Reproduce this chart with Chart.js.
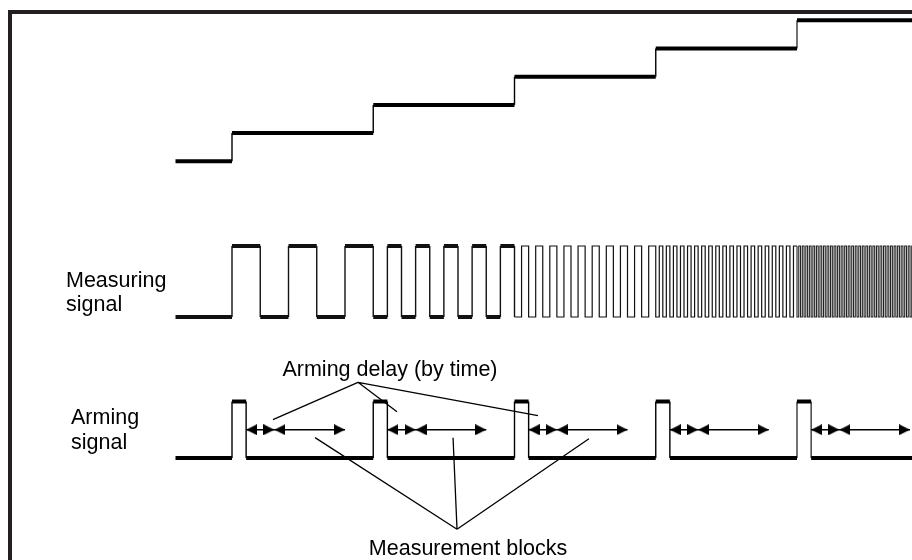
<!DOCTYPE html>
<html><head><meta charset="utf-8">
<script src="https://cdn.jsdelivr.net/npm/chart.js@4.4.1/dist/chart.umd.min.js"></script>
<style>html,body{margin:0;padding:0;background:#fff;overflow:hidden}canvas{display:block}</style>
</head><body>
<canvas id="c" width="912" height="560"></canvas>
<script>
// ---------------- data (time units: one staircase step = 10 units) ----------------
const signalStart = 6;
const signalEnd = 58.3;
const stairEdges = [10, 20, 30, 40, 50];
const stairLevels = [0, 1, 2, 3, 4, 5];
const measSegStart = [10, 20, 30, 40, 50];
const measSegEnd = [20, 30, 40, 50, 58.3];
const measPeriod = [4, 2, 1, 0.5, 0.25];
const measHighPhase = [0, 0.5, 0.5, 0.5, 0.5];
const armRise = [10, 20, 30, 40, 50];
const armFall = [11, 21, 31, 41, 51];
const delayEnd = [13, 23, 33, 43, 53];
const blockEnd = [18, 28, 38, 48, 58];
const arrowLevel = 0.5;
const delayApex = [18.92, 1.34];
const delayTipX = [12.9, 21.68, 31.66];
const delayTipY = [0.68, 0.82, 0.75];
const blockApex = [25.93, -1.26];
const blockTipX = [15.88, 25.65, 35.27];
const blockTipY = [0.36, 0.36, 0.34];
const labelTexts = ['Measuring', 'signal', 'Arming', 'signal', 'Arming delay (by time)', 'Measurement blocks'];

// ---------------- build series ----------------
const stairPts = [{x: signalStart, y: stairLevels[0]}];
stairEdges.forEach((e, i) => { stairPts.push({x: e, y: stairLevels[i]}); stairPts.push({x: e, y: stairLevels[i + 1]}); });
stairPts.push({x: signalEnd, y: stairLevels[stairLevels.length - 1]});

const measPts = [{x: signalStart, y: 0}];
measSegStart.forEach((s, si) => {
  const p = measPeriod[si];
  for (let i = 0; ; i++) {
    const rise = s + i * p + measHighPhase[si] * p;
    if (rise >= measSegEnd[si] - 1e-9) break;
    const fall = rise + p / 2;
    measPts.push({x: rise, y: 0}, {x: rise, y: 1}, {x: fall, y: 1}, {x: fall, y: 0});
  }
});
measPts.push({x: signalEnd, y: 0});

const armPts = [{x: signalStart, y: 0}];
armRise.forEach((r, i) => { armPts.push({x: r, y: 0}, {x: r, y: 1}, {x: armFall[i], y: 1}, {x: armFall[i], y: 0}); });
armPts.push({x: signalEnd, y: 0});

const arrowLines = [];
armFall.forEach((f, i) => { arrowLines.push({x: f, y: arrowLevel}, {x: blockEnd[i], y: arrowLevel}, {x: blockEnd[i], y: null}); });
const headsLeft = [], headsRight = [];
armFall.forEach((f, i) => {
  headsLeft.push({x: f, y: arrowLevel}, {x: delayEnd[i], y: arrowLevel});
  headsRight.push({x: delayEnd[i], y: arrowLevel}, {x: blockEnd[i], y: arrowLevel});
});
const callouts = [];
delayTipX.forEach((x, i) => { callouts.push({x: delayApex[0], y: delayApex[1]}, {x: x, y: delayTipY[i]}, {x: x, y: null}); });
blockTipX.forEach((x, i) => { callouts.push({x: blockApex[0], y: blockApex[1]}, {x: x, y: blockTipY[i]}, {x: x, y: null}); });

// ---------------- layout helpers ----------------
const W = 912, H = 560;
const pxPerUnit = 14.125;
const xMin = 10 - 232 / pxPerUnit, xMax = xMin + W / pxPerUnit;
function place(p0, u) { return {min: (p0 - H) / u, max: p0 / u}; }
const yStair = place(161.3, 28.2), yMeas = place(317, 71), yArm = place(458, 56.5);

function head() {
  const c = document.createElement('canvas');
  c.width = 22; c.height = 11;
  const g = c.getContext('2d');
  g.fillStyle = '#000';
  g.beginPath(); g.moveTo(0, 0); g.lineTo(11, 5.5); g.lineTo(0, 11); g.closePath(); g.fill();
  return c;
}
const headImg = head();
const thick = 4, thin = 1.4;
const hv = (limit) => ctx => {
  const a = ctx.p0.parsed, b = ctx.p1.parsed;
  if (a.y === b.y && b.x <= limit) return thick;
  if (a.x >= 50) return 1.1;
  return b.x > limit ? 1.2 : thin;
};
const measColor = ctx => (ctx.p0.parsed.x >= 50 ? '#222' : '#111');

const decor = {
  id: 'decor',
  beforeDraw(chart) {
    const g = chart.ctx;
    g.save(); g.fillStyle = '#231f20';
    g.fillRect(8, 10, 4, H - 10); g.fillRect(8, 10, W - 8, 4);
    g.restore();
  },
  afterDraw(chart) {
    const g = chart.ctx, sx = chart.scales.x;
    g.save(); g.fillStyle = '#000'; g.font = '21.5px "Liberation Sans", Arial, sans-serif'; g.textBaseline = 'alphabetic';
    g.textAlign = 'left';
    g.fillText(labelTexts[0], 66, 287);
    g.fillText(labelTexts[1], 66, 311);
    g.fillText(labelTexts[2], 71, 424);
    g.fillText(labelTexts[3], 71, 449);
    g.textAlign = 'center';
    g.fillText(labelTexts[4], sx.getPixelForValue(delayApex[0]) + 32, 376);
    g.fillText(labelTexts[5], sx.getPixelForValue(blockApex[0]) + 11, 555);
    g.restore();
  }
};

new Chart(document.getElementById('c'), {
  type: 'line',
  data: { datasets: [
    {data: stairPts, yAxisID: 'yStair', borderColor: '#000', pointRadius: 0, borderWidth: thin, segment: {borderWidth: hv(1e9)}},
    {data: measPts, yAxisID: 'yMeas', borderColor: '#000', pointRadius: 0, borderWidth: thin, segment: {borderWidth: hv(30), borderColor: measColor}},
    {data: armPts, yAxisID: 'yArm', borderColor: '#000', pointRadius: 0, borderWidth: thin, segment: {borderWidth: hv(1e9)}},
    {data: arrowLines, yAxisID: 'yArm', borderColor: '#000', pointRadius: 0, borderWidth: 1.3, spanGaps: false},
    {data: callouts, yAxisID: 'yArm', borderColor: '#000', pointRadius: 0, borderWidth: 1.3, spanGaps: false},
    {data: headsRight, yAxisID: 'yArm', showLine: false, pointStyle: headImg, pointRadius: 5, pointRotation: 0, pointBackgroundColor: '#000', pointBorderWidth: 0},
    {data: headsLeft, yAxisID: 'yArm', showLine: false, pointStyle: headImg, pointRadius: 5, pointRotation: 180, pointBackgroundColor: '#000', pointBorderWidth: 0}
  ]},
  options: {
    responsive: false, animation: false, events: [],
    layout: {padding: 0, autoPadding: false},
    plugins: {legend: {display: false}, tooltip: {enabled: false}, title: {display: false}},
    elements: {line: {tension: 0, borderCapStyle: 'butt', borderJoinStyle: 'miter'}},
    scales: {
      x: {type: 'linear', min: xMin, max: xMax, display: false},
      yStair: {type: 'linear', min: yStair.min, max: yStair.max, display: false},
      yMeas: {type: 'linear', min: yMeas.min, max: yMeas.max, display: false},
      yArm: {type: 'linear', min: yArm.min, max: yArm.max, display: false}
    }
  },
  plugins: [decor]
});
</script>
</body></html>
